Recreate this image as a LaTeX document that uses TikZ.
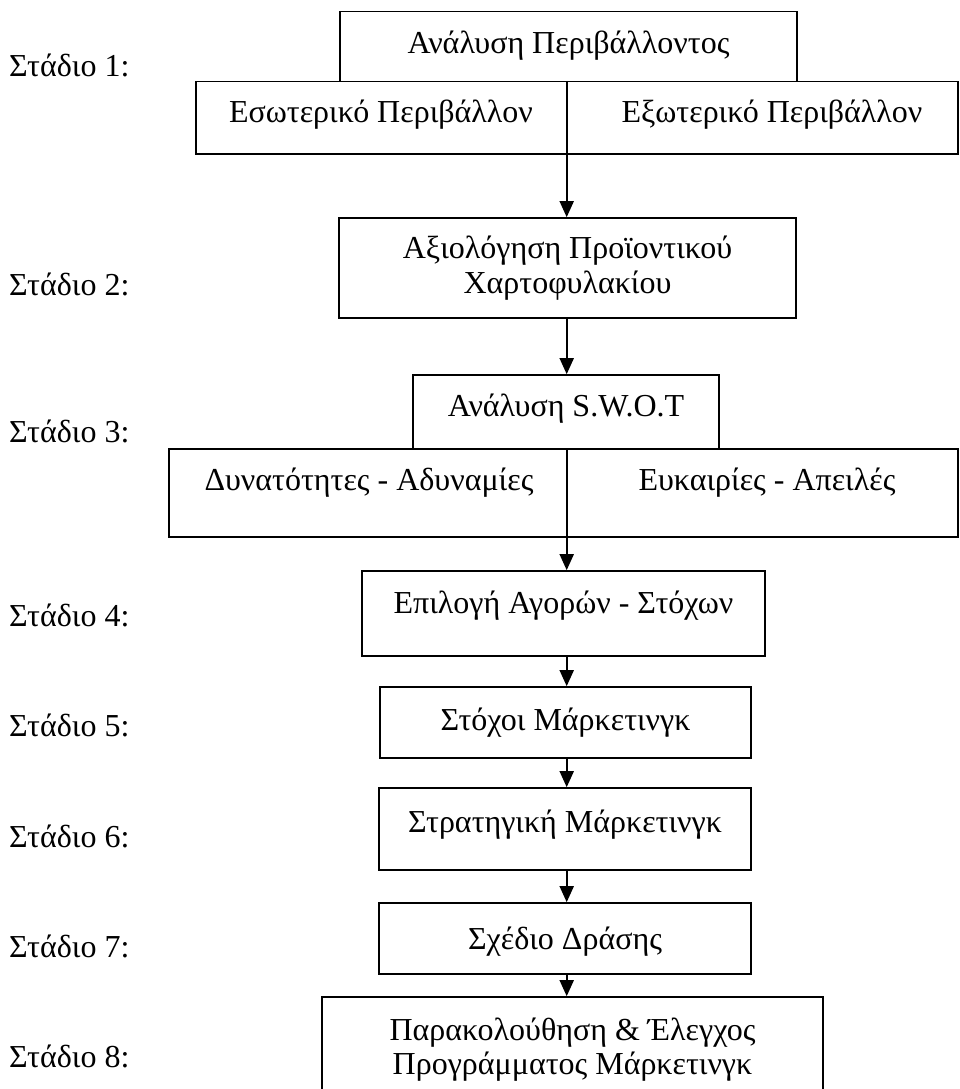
\documentclass[tikz,border=0pt]{standalone}
\usepackage{fontspec}
\setmainfont{Liberation Serif}
\usetikzlibrary{arrows.meta}
\begin{document}
\begin{tikzpicture}[x=1pt,y=-1pt,
  boxst/.style={draw, line width=1.6pt, rectangle, inner sep=0pt},
  txt/.style={font=\fontsize{32}{35}\selectfont, inner sep=0pt, anchor=base},
  lbl/.style={font=\fontsize{32}{35}\selectfont, inner sep=0pt, anchor=base west},
  arr/.style={line width=1.8pt, -{Triangle[width=14pt,length=16pt]}},
  divl/.style={line width=1.8pt}]
\useasboundingbox (0,0) rectangle (959,1089);
\clip (0,0) rectangle (959,1089);
\coordinate (spine) at (566.7,0);
% boxes
\node[boxst, minimum width=457pt, minimum height=70pt]   (b1)  at (568.5,46.7) {};
\node[boxst, minimum width=762pt, minimum height=72.3pt] (l1)  at (577,117.85) {};
\node[boxst, minimum width=457pt, minimum height=100pt]  (b2)  at (567.5,268) {};
\node[boxst, minimum width=306pt, minimum height=74pt]   (sw)  at (566,412) {};
\node[boxst, minimum width=789pt, minimum height=88pt]   (lsw) at (563.5,493) {};
\node[boxst, minimum width=403pt, minimum height=85pt]   (b4)  at (563.5,613.5) {};
\node[boxst, minimum width=371pt, minimum height=71pt]   (b5)  at (565.5,722.5) {};
\node[boxst, minimum width=372pt, minimum height=82pt]   (b6)  at (565,829) {};
\node[boxst, minimum width=372pt, minimum height=71pt]   (b7)  at (565,938.5) {};
\node[boxst, minimum width=501pt, minimum height=113pt]  (b8)  at (572.5,1053.5) {};
% dividers
\draw[divl] (l1.north -| spine) -- (l1.south -| spine);
\draw[divl] (lsw.north -| spine) -- (lsw.south -| spine);
% arrows
\draw[arr] (l1.south -| spine) -- (b2.north -| spine);
\draw[arr] (b2.south -| spine) -- (sw.north -| spine);
\draw[arr] (lsw.south -| spine) -- (b4.north -| spine);
\draw[arr] (b4.south -| spine) -- (b5.north -| spine);
\draw[arr] (b5.south -| spine) -- (b6.north -| spine);
\draw[arr] (b6.south -| spine) -- (b7.north -| spine);
\draw[arr] (b7.south -| spine) -- (b8.north -| spine);
% texts
\node[txt] (t1)  at (568.5,54) {Ανάλυση Περιβάλλοντος};
\node[txt] (t1a) at (381,123) {Εσωτερικό Περιβάλλον};
\node[txt] (t1b) at (772,123) {Εξωτερικό Περιβάλλον};
\node[txt] (t2a) at (567.5,258) {Αξιολόγηση Προϊοντικού};
\node[txt] (t2b) at (567.5,293) {Χαρτοφυλακίου};
\node[txt] (t3)  at (566,416) {Ανάλυση S.W.O.T};
\node[txt] (t3a) at (369,490) {Δυνατότητες - Αδυναμίες};
\node[txt] (t3b) at (767,490) {Ευκαιρίες - Απειλές};
\node[txt] (t4)  at (563.5,613) {Επιλογή Αγορών - Στόχων};
\node[txt] (t5)  at (565.5,730) {Στόχοι Μάρκετινγκ};
\node[txt] (t6)  at (565,832) {Στρατηγική Μάρκετινγκ};
\node[txt] (t7)  at (565,949) {Σχέδιο Δράσης};
\node[txt] (t8a) at (572.5,1040) {Παρακολούθηση \& Έλεγχος};
\node[txt] (t8b) at (572.5,1074) {Προγράμματος Μάρκετινγκ};
% stage labels
\node[lbl] (s1) at (9,77)   {Στάδιο 1:};
\node[lbl] (s2) at (9,295)  {Στάδιο 2:};
\node[lbl] (s3) at (9,442)  {Στάδιο 3:};
\node[lbl] (s4) at (9,626)  {Στάδιο 4:};
\node[lbl] (s5) at (9,736)  {Στάδιο 5:};
\node[lbl] (s6) at (9,847)  {Στάδιο 6:};
\node[lbl] (s7) at (9,957)  {Στάδιο 7:};
\node[lbl] (s8) at (9,1067) {Στάδιο 8:};
\end{tikzpicture}
\end{document}
